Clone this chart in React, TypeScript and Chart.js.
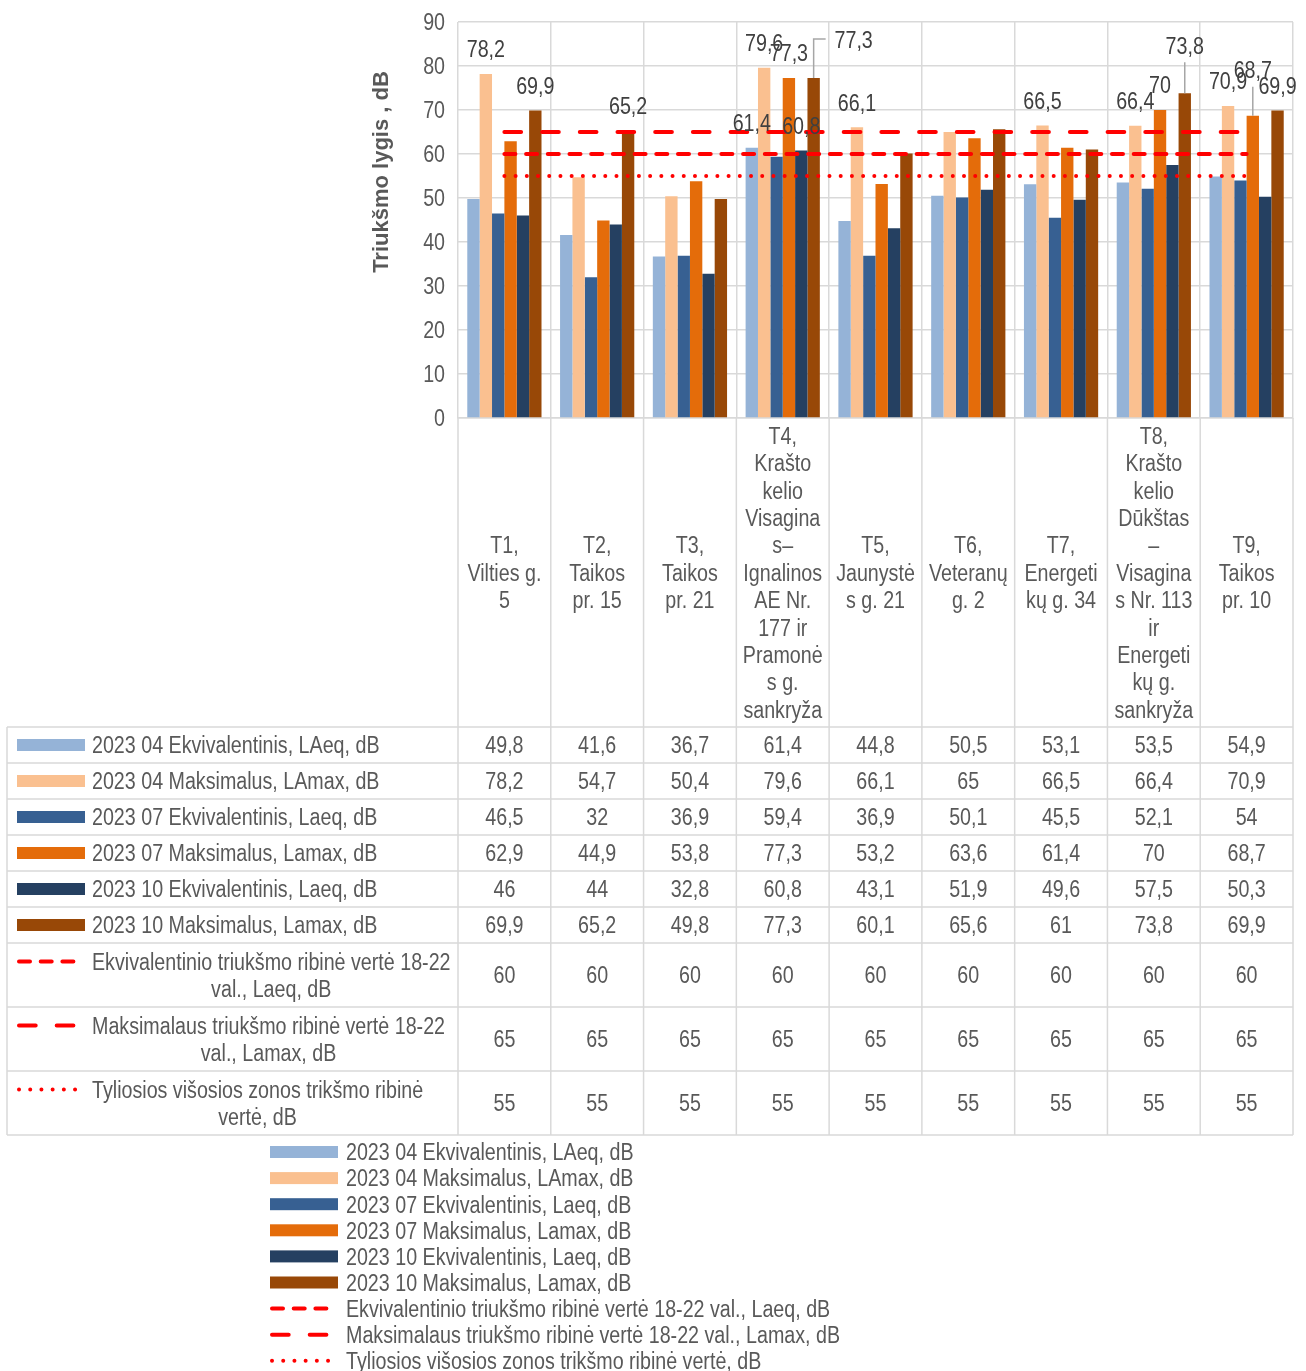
import React, { useEffect, useRef } from "react";
import { Chart, registerables } from "chart.js";

Chart.register(...registerables);

// ---------- data ----------
const categories: string[][] = [
  ["T1,", "Vilties g.", "5"],
  ["T2,", "Taikos", "pr. 15"],
  ["T3,", "Taikos", "pr. 21"],
  ["T4,", "Krašto", "kelio", "Visagina", "s–", "Ignalinos", "AE Nr.", "177 ir", "Pramonė", "s g.", "sankryža"],
  ["T5,", "Jaunystė", "s g. 21"],
  ["T6,", "Veteranų", "g. 2"],
  ["T7,", "Energeti", "kų g. 34"],
  ["T8,", "Krašto", "kelio", "Dūkštas", "–", "Visagina", "s Nr. 113", "ir", "Energeti", "kų g.", "sankryža"],
  ["T9,", "Taikos", "pr. 10"],
];

const seriesNames: string[] = [
  "2023 04 Ekvivalentinis, LAeq, dB",
  "2023 04 Maksimalus, LAmax, dB",
  "2023 07 Ekvivalentinis, Laeq, dB",
  "2023 07 Maksimalus, Lamax, dB",
  "2023 10 Ekvivalentinis, Laeq, dB",
  "2023 10 Maksimalus, Lamax, dB",
  "Ekvivalentinio triukšmo ribinė vertė 18-22 val., Laeq, dB",
  "Maksimalaus triukšmo ribinė vertė 18-22 val., Lamax, dB",
  "Tyliosios višosios zonos trikšmo ribinė vertė, dB",
];

const apr2023Eq = [49.8, 41.6, 36.7, 61.4, 44.8, 50.5, 53.1, 53.5, 54.9];
const apr2023Max = [78.2, 54.7, 50.4, 79.6, 66.1, 65, 66.5, 66.4, 70.9];
const jul2023Eq = [46.5, 32, 36.9, 59.4, 36.9, 50.1, 45.5, 52.1, 54];
const jul2023Max = [62.9, 44.9, 53.8, 77.3, 53.2, 63.6, 61.4, 70, 68.7];
const oct2023Eq = [46, 44, 32.8, 60.8, 43.1, 51.9, 49.6, 57.5, 50.3];
const oct2023Max = [69.9, 65.2, 49.8, 77.3, 60.1, 65.6, 61, 73.8, 69.9];
const limitEquivalent = [60, 60, 60, 60, 60, 60, 60, 60, 60];
const limitMaximum = [65, 65, 65, 65, 65, 65, 65, 65, 65];
const limitQuietZone = [55, 55, 55, 55, 55, 55, 55, 55, 55];

const yMin = 0;
const yMax = 90;
const yStep = 10;
const yTitle = "Triukšmo lygis , dB";

// which points carry a value label (dataset index, category index) and special placements
const labelPlacements: { ds: number; i: number; dx?: number; dy?: number; leader?: "v" | "elbow" }[] = [
  { ds: 1, i: 0 }, { ds: 5, i: 0 },
  { ds: 5, i: 1 },
  { ds: 0, i: 3 }, { ds: 1, i: 3 }, { ds: 3, i: 3 }, { ds: 4, i: 3 },
  { ds: 5, i: 3, dx: 40, dy: -38, leader: "elbow" },
  { ds: 1, i: 4 },
  { ds: 1, i: 6 },
  { ds: 1, i: 7 }, { ds: 3, i: 7 }, { ds: 5, i: 7, dy: -48, leader: "v" },
  { ds: 1, i: 8 }, { ds: 3, i: 8, dy: -46, leader: "v" }, { ds: 5, i: 8 },
];

// ---------- styles ----------
const FONT = '"Liberation Sans", Arial, sans-serif';
const SX = 0.855; // horizontal condensing to mimic Arial Narrow
const TEXT_DY = 2; // optical vertical centring of digits
const TEXT = "#595959";
const LABEL = "#404040";
const GRID = "#D9D9D9";
const FS = 23;
const LINE_H = 27.4;

const fmt = (v: number) => String(v).replace(".", ",");

function txt(ctx: CanvasRenderingContext2D, s: string, x: number, y: number, align: CanvasTextAlign) {
  ctx.save();
  ctx.translate(x, y + TEXT_DY);
  ctx.scale(SX, 1);
  ctx.textAlign = align;
  ctx.fillText(s, 0, 0);
  ctx.restore();
}
const tw = (ctx: CanvasRenderingContext2D, s: string) => ctx.measureText(s).width * SX;

function wrapText(ctx: CanvasRenderingContext2D, text: string, maxW: number): string[] {
  const words = text.split(" ");
  const lines: string[] = [];
  let cur = "";
  for (const w of words) {
    const t = cur ? cur + " " + w : w;
    if (cur && tw(ctx, t) > maxW) {
      lines.push(cur);
      cur = w;
    } else cur = t;
  }
  if (cur) lines.push(cur);
  return lines;
}

function drawKey(ctx: CanvasRenderingContext2D, ds: any, x0: number, x1: number, y: number) {
  ctx.save();
  if (ds.type === "line") {
    ctx.strokeStyle = ds.borderColor;
    ctx.lineWidth = ds.borderWidth;
    ctx.lineCap = "round";
    ctx.setLineDash(ds.borderDash || []);
    ctx.beginPath();
    ctx.moveTo(x0 + 2, y);
    ctx.lineTo(x1 - 2, y);
    ctx.stroke();
  } else {
    ctx.fillStyle = ds.backgroundColor;
    ctx.fillRect(x0, y - 6, x1 - x0, 12);
  }
  ctx.restore();
}

const decorPlugin = {
  id: "decor",
  afterDatasetsDraw(chart: any) {
    const { ctx } = chart;
    ctx.save();
    ctx.font = `${FS}px ${FONT}`;
    ctx.fillStyle = LABEL;
    ctx.textBaseline = "middle";
    for (const p of labelPlacements) {
      const el = chart.getDatasetMeta(p.ds).data[p.i];
      const v = chart.data.datasets[p.ds].data[p.i];
      const dx = p.dx ?? 0;
      const dy = p.dy ?? -25;
      const tx = el.x + dx;
      const ty = el.y + dy;
      if (p.leader) {
        ctx.save();
        ctx.strokeStyle = "#A6A6A6";
        ctx.lineWidth = 1.5;
        ctx.beginPath();
        if (p.leader === "v") {
          ctx.moveTo(el.x, ty + 17);
          ctx.lineTo(el.x, el.y);
        } else {
          ctx.moveTo(el.x, el.y);
          ctx.lineTo(el.x, ty - 1);
          ctx.lineTo(el.x + 12, ty - 1);
        }
        ctx.stroke();
        ctx.restore();
      }
      txt(ctx, fmt(v), tx, ty, "center");
    }
    ctx.restore();
  },
  afterDraw(chart: any) {
    const { ctx, chartArea } = chart;
    const xs = chart.scales.x;
    const ys = chart.scales.y;
    const n = categories.length;
    const catW = (chartArea.right - chartArea.left) / n;
    const tableLeft = 7;
    const keyX0 = 17;
    const keyX1 = 85;
    const headTextX = 92;
    const headMaxW = chartArea.left - headTextX;
    const top = xs.bottom;
    const datasets = chart.data.datasets;

    ctx.save();
    ctx.font = `${FS}px ${FONT}`;
    ctx.textBaseline = "middle";
    ctx.fillStyle = TEXT;

    // y tick labels
    for (const t of ys.ticks) {
      txt(ctx, String(t.value), chartArea.left - 13, ys.getPixelForValue(t.value), "right");
    }
    // x category labels, vertically centred in the axis band
    const bandMid = (chartArea.bottom + xs.bottom) / 2;
    categories.forEach((lines, i) => {
      const cx = xs.getPixelForValue(i);
      const y0 = bandMid - ((lines.length - 1) * LINE_H) / 2;
      lines.forEach((l, j) => txt(ctx, l, cx, y0 + j * LINE_H, "center"));
    });

    // rows
    const rows = datasets.map((ds: any) => {
      const lines = wrapText(ctx, ds.label, headMaxW);
      return { ds, lines, h: 36 + (lines.length - 1) * 28 };
    });
    const bottom = top + rows.reduce((s: number, r: any) => s + r.h, 0);

    ctx.strokeStyle = GRID;
    ctx.lineWidth = 1.5;
    for (let k = 0; k <= n; k++) {
      const x = chartArea.left + k * catW;
      ctx.beginPath();
      ctx.moveTo(x, chartArea.bottom);
      ctx.lineTo(x, bottom);
      ctx.stroke();
    }
    ctx.beginPath();
    ctx.moveTo(tableLeft, top);
    ctx.lineTo(tableLeft, bottom);
    ctx.stroke();
    let y = top;
    ctx.beginPath();
    ctx.moveTo(tableLeft, y);
    ctx.lineTo(chartArea.right, y);
    ctx.stroke();
    for (const r of rows) {
      y += r.h;
      ctx.beginPath();
      ctx.moveTo(tableLeft, y);
      ctx.lineTo(chartArea.right, y);
      ctx.stroke();
    }

    // row contents
    y = top;
    for (const r of rows) {
      const cy = y + r.h / 2;
      const firstY = r.lines.length > 1 ? cy - ((r.lines.length - 1) * 27) / 2 : cy;
      drawKey(ctx, r.ds, keyX0, keyX1, firstY);
      const blockW = Math.max(...r.lines.map((l: string) => tw(ctx, l)));
      ctx.fillStyle = TEXT;
      r.lines.forEach((l: string, j: number) => {
        txt(ctx, l, headTextX + blockW / 2, firstY + j * 27, "center");
      });
      r.ds.data.forEach((v: number, i: number) => {
        txt(ctx, fmt(v), xs.getPixelForValue(i), cy, "center");
      });
      y += r.h;
    }

    // legend below
    const legX0 = 270;
    const legX1 = 338;
    const legText = 346;
    datasets.forEach((ds: any, i: number) => {
      const ly = bottom + 17 + i * 26.1;
      drawKey(ctx, ds, legX0, legX1, ly);
      ctx.fillStyle = TEXT;
      txt(ctx, ds.label, legText, ly, "left");
    });

    // y axis title
    ctx.save();
    ctx.translate(382, 172);
    ctx.rotate(-Math.PI / 2);
    ctx.font = `bold 22px ${FONT}`;
    ctx.fillStyle = TEXT;
    ctx.textAlign = "center";
    ctx.fillText(yTitle, 0, 0);
    ctx.restore();

    ctx.restore();
  },
};

export default function App() {
  const ref = useRef<HTMLCanvasElement | null>(null);
  useEffect(() => {
    if (!ref.current) return;
    const barColors = ["#95B3D7", "#FAC090", "#376092", "#E46C0A", "#254061", "#984807"];
    const barSeries = [apr2023Eq, apr2023Max, jul2023Eq, jul2023Max, oct2023Eq, oct2023Max];
    const datasets: any[] = barSeries.map((d, k) => ({
      type: "bar",
      label: seriesNames[k],
      data: d,
      backgroundColor: barColors[k],
      borderWidth: 0,
      categoryPercentage: 0.8,
      barPercentage: 1.0,
      order: 1,
    }));
    const lineSpec = [
      { data: limitEquivalent, dash: [11, 10.7] },
      { data: limitMaximum, dash: [16.7, 21] },
      { data: limitQuietZone, dash: [0.01, 11.2] },
    ];
    lineSpec.forEach((l, k) => {
      datasets.push({
        type: "line",
        label: seriesNames[6 + k],
        data: l.data,
        borderColor: "#FF0000",
        backgroundColor: "#FF0000",
        borderWidth: 4,
        borderDash: l.dash,
        borderCapStyle: "round",
        pointRadius: 0,
        fill: false,
        order: 0,
      });
    });

    const chart = new Chart(ref.current, {
      type: "bar",
      data: { labels: categories.map((c) => c.join(" ")), datasets },
      options: {
        animation: false,
        responsive: true,
        maintainAspectRatio: false,
        layout: { padding: { left: 0, top: 22, right: 13, bottom: 644 } },
        plugins: { legend: { display: false }, tooltip: { enabled: false } },
        scales: {
          x: {
            offset: true,
            grid: { offset: true, color: GRID, lineWidth: 1.5, drawTicks: false },
            border: { color: GRID, width: 1.5 },
            ticks: { display: false },
            afterFit: (s: any) => {
              s.height = 309;
            },
          },
          y: {
            min: yMin,
            max: yMax,
            ticks: { display: false, stepSize: yStep },
            grid: { color: GRID, lineWidth: 1.5, drawTicks: false },
            border: { display: false },
            afterFit: (s: any) => {
              s.width = 458;
            },
          },
        },
      } as any,
      plugins: [decorPlugin],
    });
    return () => chart.destroy();
  }, []);

  return (
    <div style={{ position: "absolute", left: 0, top: 0, width: 1306, height: 1371, background: "#fff" }}>
      <canvas ref={ref} />
    </div>
  );
}
